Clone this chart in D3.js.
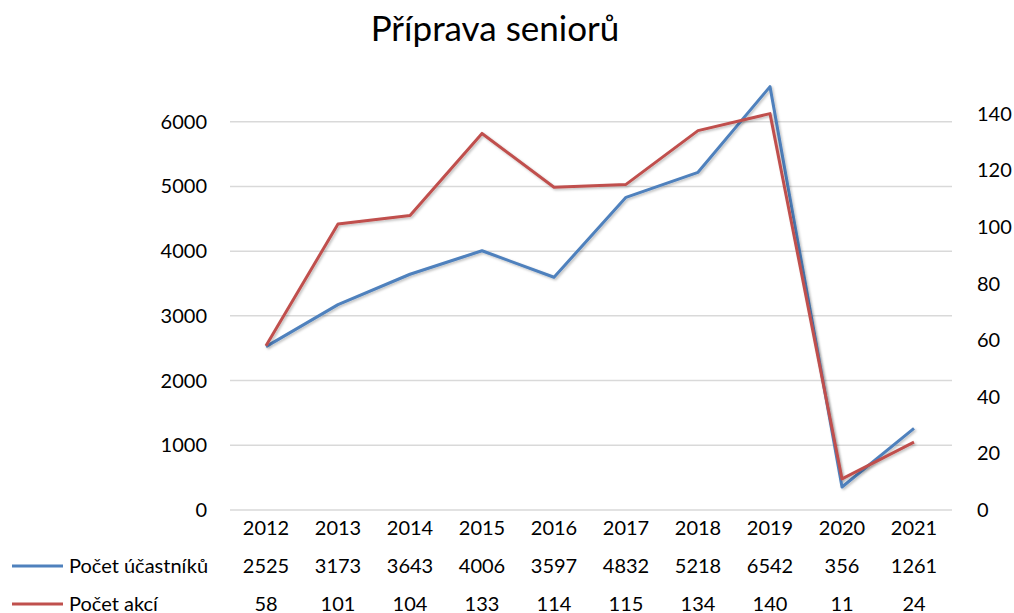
<!DOCTYPE html>
<html>
<head>
<meta charset="utf-8">
<style type="text/css">
    body { margin: 0; background: #fff; }
    text { font-family: Lato, "Open Sans", sans-serif; fill: #000; }
</style>
</head>
<body>
<svg width="1014" height="613"></svg>
<script src="https://cdn.jsdelivr.net/npm/d3@7"></script>
<script type="text/javascript">

    // data
    let years = ["2012", "2013", "2014", "2015", "2016", "2017", "2018", "2019", "2020", "2021"];
    let ucastnici = [2525, 3173, 3643, 4006, 3597, 4832, 5218, 6542, 356, 1261];
    let akce = [58, 101, 104, 133, 114, 115, 134, 140, 11, 24];
    let leftTicks = [0, 1000, 2000, 3000, 4000, 5000, 6000];
    let rightTicks = [0, 20, 40, 60, 80, 100, 120, 140];
    let seriesNames = ["Počet účastníků", "Počet akcí"];

    var svg = d3.select("svg"),
        plotLeft = 230, plotRight = 950,
        plotTop = 57, plotBottom = 510;

    var x = d3.scaleBand().domain(years).range([plotLeft, plotRight]);
    var yL = d3.scaleLinear().domain([0, 7000]).range([plotBottom, plotTop]);
    var yR = d3.scaleLinear().domain([0, 160]).range([plotBottom, plotTop]);

    // soft shadow like the office charts
    var defs = svg.append("defs");
    var f = defs.append("filter").attr("id", "shadow")
        .attr("x", "-5%").attr("y", "-5%").attr("width", "110%").attr("height", "110%");
    f.append("feDropShadow").attr("dx", 1.5).attr("dy", 1.5).attr("stdDeviation", 1.2)
        .attr("flood-color", "#000").attr("flood-opacity", 0.25);

    // title
    svg.append("text")
        .attr("x", 495).attr("y", 41)
        .attr("text-anchor", "middle")
        .style("font-size", "35px")
        .text("Příprava seniorů");

    // gridlines
    svg.append("g").selectAll("line")
        .data(leftTicks)
        .enter().append("line")
        .attr("x1", plotLeft).attr("x2", plotRight + 2)
        .attr("y1", d => yL(d)).attr("y2", d => yL(d))
        .attr("stroke", "#d9d9d9").attr("stroke-width", 1.5);

    // left axis labels
    svg.append("g").selectAll("text")
        .data(leftTicks)
        .enter().append("text")
        .attr("x", 207).attr("y", d => yL(d))
        .attr("dy", "0.35em")
        .attr("text-anchor", "end")
        .style("font-size", "20px")
        .text(d => d);

    // right axis labels
    svg.append("g").selectAll("text")
        .data(rightTicks)
        .enter().append("text")
        .attr("x", 977).attr("y", d => yR(d))
        .attr("dy", "0.35em")
        .style("font-size", "20px")
        .text(d => d);

    // lines
    var lineL = d3.line()
        .x((d, i) => x(years[i]) + x.bandwidth() / 2)
        .y(d => yL(d));
    var lineR = d3.line()
        .x((d, i) => x(years[i]) + x.bandwidth() / 2)
        .y(d => yR(d));

    svg.append("path")
        .attr("d", lineL(ucastnici))
        .attr("fill", "none").attr("stroke", "#4f81bd").attr("stroke-width", 3)
        .attr("stroke-linejoin", "round")
        .attr("filter", "url(#shadow)");
    svg.append("path")
        .attr("d", lineR(akce))
        .attr("fill", "none").attr("stroke", "#c0504d").attr("stroke-width", 3)
        .attr("stroke-linejoin", "round")
        .attr("filter", "url(#shadow)");

    // data table below the chart
    var rowY = [528, 566, 604];
    svg.append("g").selectAll("text")
        .data(years)
        .enter().append("text")
        .attr("x", d => x(d) + x.bandwidth() / 2).attr("y", rowY[0])
        .attr("dy", "0.35em").attr("text-anchor", "middle")
        .style("font-size", "20px")
        .text(d => d);

    [ucastnici, akce].forEach(function(vals, r) {
        svg.append("g").selectAll("text")
            .data(vals)
            .enter().append("text")
            .attr("x", (d, i) => x(years[i]) + x.bandwidth() / 2).attr("y", rowY[r + 1])
            .attr("dy", "0.35em").attr("text-anchor", "middle")
            .style("font-size", "20px")
            .text(d => d);
    });

    var colors = ["#4f81bd", "#c0504d"];
    seriesNames.forEach(function(name, r) {
        svg.append("line")
            .attr("x1", 12).attr("x2", 63)
            .attr("y1", rowY[r + 1]).attr("y2", rowY[r + 1])
            .attr("stroke", colors[r]).attr("stroke-width", 3);
        svg.append("text")
            .attr("x", 69).attr("y", rowY[r + 1])
            .attr("dy", "0.35em")
            .style("font-size", "20px")
            .text(name);
    });

</script>
</body>
</html>
